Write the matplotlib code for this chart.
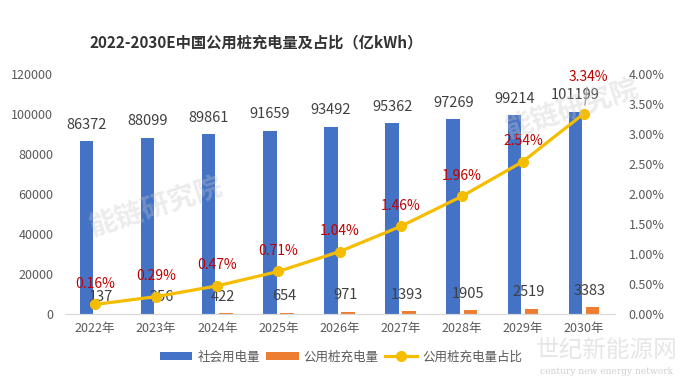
import matplotlib.pyplot as plt
import numpy as np

plt.rcParams['font.family'] = ['Noto Sans CJK SC', 'DejaVu Sans']

years = ['2022年', '2023年', '2024年', '2025年', '2026年', '2027年', '2028年', '2029年', '2030年']
society = [86372, 88099, 89861, 91659, 93492, 95362, 97269, 99214, 101199]
public_pile = [137, 256, 422, 654, 971, 1393, 1905, 2519, 3383]
share = [0.16, 0.29, 0.47, 0.71, 1.04, 1.46, 1.96, 2.54, 3.34]

blue = '#4472C4'
orange = '#ED7D31'
gold = '#F5BD00'
grey = '#595959'

fig = plt.figure(figsize=(6.82, 3.77), dpi=100)
ax = fig.add_axes([0.0946, 0.167, 0.8065, 0.637])
ax2 = ax.twinx()

x = np.arange(len(years))
w = 0.22
b1 = ax.bar(x - 0.14, society, w, color=blue, label='社会用电量', zorder=2)
b2 = ax.bar(x + 0.14, public_pile, w, color=orange, label='公用桩充电量', zorder=2)

# value labels above the bars
for xi, v in zip(x - 0.14, society):
    ax.annotate(str(v), (xi, v), xytext=(0, 12), textcoords='offset points',
                ha='center', va='center', fontsize=10.5, color='#404040')
for xi, v in zip(x + 0.14, public_pile):
    ax.annotate(str(v), (xi, v), xytext=(-2, 12), textcoords='offset points',
                ha='center', va='center', fontsize=10.5, color='#404040', zorder=5)

ln, = ax2.plot(x, share, color=gold, lw=2.3, marker='o', markersize=7,
               label='公用桩充电量占比', zorder=4)
last = len(share) - 1
for i, (xi, v) in enumerate(zip(x, share)):
    dy = 26 if i == last else 15
    ax2.annotate(f'{v:.2f}%', (xi, v), xytext=(3 if i == last else 0, dy),
                 textcoords='offset points', ha='center', va='center',
                 fontsize=10, color='#C00000',
                 arrowprops=dict(arrowstyle='-', color='#A0A0A0', lw=1,
                                 shrinkA=0, shrinkB=6) if i == last else None)

ax.set_xlim(-0.5, len(years) - 0.5)
ax.set_ylim(0, 120000)
ax.set_yticks(range(0, 120001, 20000))
ax2.set_ylim(0, 4)
ax2.set_yticks(np.arange(0, 4.01, 0.5))
ax2.set_yticklabels([f'{t:.2f}%' for t in np.arange(0, 4.01, 0.5)])
ax.set_xticks(x)
ax.set_xticklabels(years)

for a in (ax, ax2):
    for s in ('top', 'left', 'right'):
        a.spines[s].set_visible(False)
    a.spines['bottom'].set_color('#D9D9D9')
    a.tick_params(length=0, labelsize=9, colors=grey)
ax.tick_params(axis='y', pad=8)
ax2.tick_params(axis='y', pad=10)
ax.tick_params(axis='x', pad=6)

fig.text(0.375, 0.888, '2022-2030E中国公用桩充电量及占比（亿kWh）',
         ha='center', va='center', fontsize=11, fontweight='bold', color='#333333')

# watermarks
fig.text(0.23, 0.45, '能链研究院', fontsize=20, color='#C8C8C8', alpha=0.35,
         rotation=18, ha='center', va='center', fontweight='bold')
fig.text(0.84, 0.71, '能链研究院', fontsize=20, color='#C8C8C8', alpha=0.35,
         rotation=18, ha='center', va='center', fontweight='bold')
fig.text(0.89, 0.07, '世纪新能源网', fontsize=17, color='#E0E0E0', alpha=0.8,
         ha='center', va='center')
fig.text(0.89, 0.015, 'century new energy network', fontsize=6.5, color='#D0D0D0',
         ha='center', va='center', family='serif')

fig.legend([b1, b2, ln], ['社会用电量', '公用桩充电量', '公用桩充电量占比'],
           loc='center', bbox_to_anchor=(0.5, 0.053), ncol=3, frameon=False,
           fontsize=9, handlelength=2.6, handleheight=0.6, columnspacing=0.5,
           handletextpad=0.4, labelcolor=grey)

fig.savefig('out.png', dpi=100)
